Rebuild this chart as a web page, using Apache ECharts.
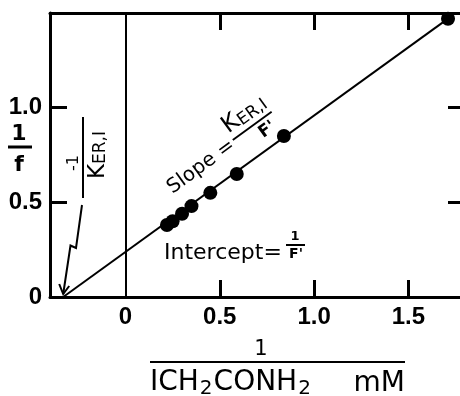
<!DOCTYPE html>
<html>
<head>
<meta charset="utf-8">
<script src="https://cdn.jsdelivr.net/npm/echarts@6/dist/echarts.min.js"></script>
<style>
  html, body { margin: 0; padding: 0; background: #fff; }
  #chart { width: 460px; height: 396px; }
</style>
</head>
<body>
<div id="chart"></div>
<script>
// tick labels
const xTicks = [0, 0.5, 1.0, 1.5];
const yTicks = [0, 0.5, 1.0];
// inner tick marks (x=0 is drawn as a full line)
const xInnerTicks = [0.5, 1.0, 1.5];
const yInnerTicks = [0.5, 1.0];
// data points: 1/[ICH2CONH2] (mM^-1) vs 1/f
const invConc = [0.22, 0.25, 0.30, 0.35, 0.45, 0.59, 0.84, 1.71];
const invF = [0.38, 0.40, 0.44, 0.48, 0.55, 0.65, 0.85, 1.47];
// fitted line ends (x-intercept = -1/K_ER,I)
const fitX = [-0.33, 1.71];
const fitY = [0, 1.47];
// axis range
const xMin = -0.4, xMax = 1.8;
const yMin = 0, yMax = 1.5;

const BLACK = '#000';
const TXT = 'DejaVu Sans';
const NUM = 'Liberation Sans';

const chart = echarts.init(document.getElementById('chart'));

function fmt(v) {
  return v === 0 ? '0' : v.toFixed(1);
}

// frame side with inward ticks
function tickAxis(ticks, labels, showLabel) {
  return {
    axisLine: { show: true, onZero: false, lineStyle: { color: BLACK, width: 3 } },
    splitLine: { show: false },
    axisTick: {
      show: true,
      inside: true,
      length: 17,
      customValues: ticks,
      lineStyle: { color: BLACK, width: 3 }
    },
    axisLabel: {
      show: showLabel,
      customValues: labels,
      formatter: fmt,
      color: BLACK,
      fontFamily: NUM,
      fontWeight: 'bold',
      fontSize: 24,
      margin: 8
    }
  };
}

const option = {
  animation: false,
  backgroundColor: '#fff',
  grid: {
    left: 50, top: 13, right: -5, bottom: 99,
    containLabel: false,
    outerBoundsMode: 'none'
  },
  xAxis: [
    Object.assign({ type: 'value', position: 'bottom', min: xMin, max: xMax }, tickAxis(xInnerTicks, xTicks, true)),
    Object.assign({ type: 'value', position: 'top', min: xMin, max: xMax }, tickAxis(xInnerTicks, xTicks, false))
  ],
  yAxis: [
    Object.assign({ type: 'value', position: 'left', min: yMin, max: yMax }, tickAxis(yInnerTicks, yTicks, true)),
    Object.assign({ type: 'value', position: 'right', min: yMin, max: yMax }, tickAxis(yInnerTicks, yTicks, false))
  ],
  series: [
    {
      name: 'fit',
      type: 'line',
      data: fitX.map((x, i) => [x, fitY[i]]),
      symbol: 'none',
      lineStyle: { color: BLACK, width: 2 },
      markLine: {
        silent: true,
        symbol: 'none',
        label: { show: false },
        lineStyle: { color: BLACK, width: 2, type: 'solid' },
        data: [{ xAxis: 0 }]
      }
    },
    {
      name: 'points',
      type: 'scatter',
      data: invConc.map((x, i) => [x, invF[i]]),
      symbol: 'circle',
      symbolSize: 14,
      itemStyle: { color: BLACK, opacity: 1 }
    }
  ]
};

chart.setOption(option);

// annotations
const tip = chart.convertToPixel({ gridIndex: 0 }, [fitX[0], 0]);
const ang = 36 * Math.PI / 180;

chart.setOption({
  graphic: [
    // y-axis name 1/f
    { type: 'text', x: 19, y: 134, style: { text: '1', fontFamily: TXT, fontSize: 22, fontWeight: 'bold', fill: BLACK, align: 'center', verticalAlign: 'middle' } },
    { type: 'line', shape: { x1: 8, y1: 147, x2: 32, y2: 147 }, style: { stroke: BLACK, lineWidth: 3 } },
    { type: 'text', x: 19, y: 165, style: { text: 'f', fontFamily: TXT, fontSize: 22, fontWeight: 'bold', fill: BLACK, align: 'center', verticalAlign: 'middle' } },

    // -1 / K_ER,I (rotated)
    {
      type: 'group', x: 83, y: 158, rotation: Math.PI / 2,
      children: [
        { type: 'line', shape: { x1: -40, y1: 0, x2: 41, y2: 0 }, style: { stroke: BLACK, lineWidth: 2 } },
        { type: 'text', x: -5, y: -9, style: { text: '-1', fontFamily: TXT, fontSize: 16, fill: BLACK, align: 'center', verticalAlign: 'middle' } },
        {
          type: 'text', x: 3, y: 15,
          style: {
            text: '{k|K}{s|ER,I}', align: 'center', verticalAlign: 'middle', fill: BLACK,
            rich: {
              k: { fontFamily: TXT, fontSize: 23, fill: BLACK, verticalAlign: 'bottom' },
              s: { fontFamily: TXT, fontSize: 17, fill: BLACK, verticalAlign: 'bottom' }
            }
          }
        }
      ]
    },

    // arrow to x-intercept
    { type: 'polyline', shape: { points: [[82, 205], [76, 248], [70.5, 245.5], [tip[0], tip[1] - 3]] }, style: { stroke: BLACK, lineWidth: 2, fill: null } },
    { type: 'polyline', shape: { points: [[tip[0] - 4, tip[1] - 13], [tip[0], tip[1] - 3], [tip[0] + 6, tip[1] - 11]] }, style: { stroke: BLACK, lineWidth: 2, fill: null } },

    // Slope = K_ER,I / F'
    {
      type: 'group', x: 168, y: 192, rotation: ang,
      children: [
        { type: 'text', x: 81, y: -1, style: { text: 'Slope =', fontFamily: TXT, fontSize: 20, fill: BLACK, align: 'right', verticalAlign: 'middle' } },
        {
          type: 'text', x: 83, y: -6,
          style: {
            text: '{k|K}{s|ER,I}', align: 'left', verticalAlign: 'bottom', fill: BLACK,
            rich: {
              k: { fontFamily: TXT, fontSize: 24, fill: BLACK, verticalAlign: 'bottom' },
              s: { fontFamily: TXT, fontSize: 17, fill: BLACK, verticalAlign: 'bottom' }
            }
          }
        },
        { type: 'line', shape: { x1: 83, y1: -4, x2: 131, y2: -4 }, style: { stroke: BLACK, lineWidth: 2 } },
        { type: 'text', x: 117, y: 8, style: { text: "F'", fontFamily: TXT, fontSize: 17, fontWeight: 'bold', fill: BLACK, align: 'center', verticalAlign: 'middle' } }
      ]
    },

    // Intercept = 1/F'
    { type: 'text', x: 164, y: 253, style: { text: 'Intercept=', fontFamily: TXT, fontSize: 22, fill: BLACK, align: 'left', verticalAlign: 'middle' } },
    { type: 'text', x: 295, y: 237, style: { text: '1', fontFamily: TXT, fontSize: 13, fontWeight: 'bold', fill: BLACK, align: 'center', verticalAlign: 'middle' } },
    { type: 'line', shape: { x1: 286, y1: 245, x2: 305, y2: 245 }, style: { stroke: BLACK, lineWidth: 2 } },
    { type: 'text', x: 296, y: 254, style: { text: "F'", fontFamily: TXT, fontSize: 14, fontWeight: 'bold', fill: BLACK, align: 'center', verticalAlign: 'middle' } },

    // x-axis name 1 / ICH2CONH2  mM
    { type: 'text', x: 261, y: 350, style: { text: '1', fontFamily: TXT, fontSize: 21, fill: BLACK, align: 'center', verticalAlign: 'middle' } },
    { type: 'line', shape: { x1: 150, y1: 362, x2: 405, y2: 362 }, style: { stroke: BLACK, lineWidth: 2 } },
    {
      type: 'text', x: 150, y: 401,
      style: {
        text: '{m|ICH}{b|2}{m|CONH}{b|2}', align: 'left', verticalAlign: 'bottom', fill: BLACK,
        rich: {
          m: { fontFamily: TXT, fontSize: 28, fill: BLACK, verticalAlign: 'bottom', padding: [0, 0, 4, 0] },
          b: { fontFamily: TXT, fontSize: 20, fill: BLACK, verticalAlign: 'bottom', padding: [0, 1, 2, 1] }
        }
      }
    },
    { type: 'text', x: 405, y: 384, style: { text: 'mM', fontFamily: TXT, fontSize: 28, fill: BLACK, align: 'right', verticalAlign: 'middle' } }
  ]
});
</script>
</body>
</html>
